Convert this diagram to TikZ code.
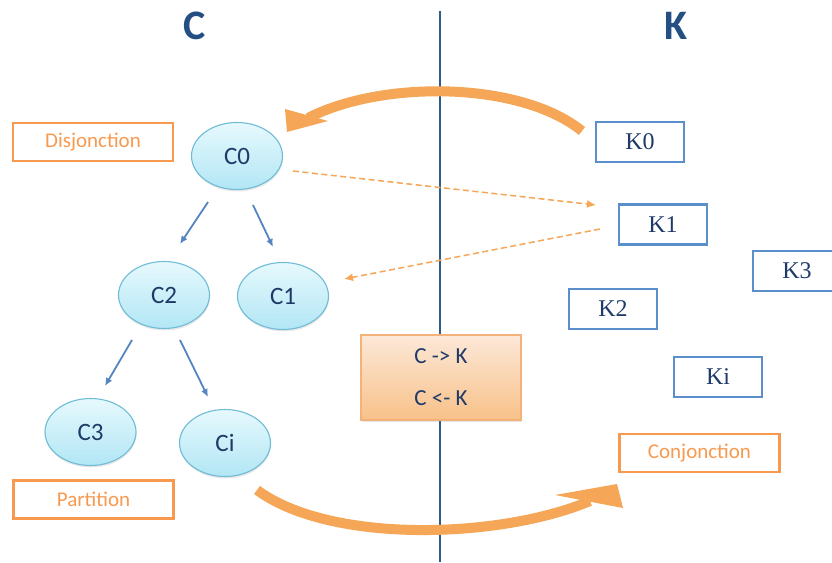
\documentclass[tikz,border=0pt]{standalone}
\usepackage{fontspec}
\setsansfont{Carlito}
\newfontfamily\kserif{Liberation Serif}
\usetikzlibrary{arrows.meta,shadows,shapes.geometric}
\definecolor{navy}{HTML}{1F3A68}
\definecolor{titleblue}{HTML}{234F82}
\definecolor{lineblue}{HTML}{2E5C8A}
\definecolor{arrblue}{HTML}{5585C0}
\definecolor{kblue}{HTML}{5B8FCB}
\definecolor{orng}{HTML}{F5A656}
\definecolor{lblorange}{HTML}{F79A50}
\definecolor{ellborder}{HTML}{6FBCD6}
\definecolor{elltop}{HTML}{E6F9FD}
\definecolor{ellbot}{HTML}{B2E6F5}
\definecolor{boxtop}{HTML}{FCE8D8}
\definecolor{boxbot}{HTML}{F8C189}
\definecolor{boxborder}{HTML}{F3B27A}
\tikzset{
  cnode/.style={ellipse, draw=ellborder, line width=1.1pt, top color=elltop, bottom color=ellbot,
    minimum width=91pt, minimum height=67pt, inner sep=0pt, text=navy,
    font=\sffamily\fontsize{25}{27}\selectfont,
    drop shadow={opacity=0.18, shadow xshift=0.5pt, shadow yshift=-2pt}},
  kbox/.style={rectangle, draw=kblue, line width=2.4pt, fill=white, minimum width=88pt, minimum height=40pt,
    inner sep=0pt, text=navy, font=\kserif\fontsize{24}{26}\selectfont},
  lblbox/.style={rectangle, draw=lblorange, line width=2.2pt, fill=white, minimum width=160pt, minimum height=38pt,
    inner sep=0pt, text=lblorange, font=\sffamily\fontsize{21}{23}\selectfont},
  title/.style={text=titleblue, font=\sffamily\bfseries\fontsize{42}{44}\selectfont, inner sep=0pt},
  barrow/.style={draw=arrblue, line width=1.8pt, -{Latex[length=8pt,width=7pt]}},
  darrow/.style={draw=orng, line width=1.5pt, dash pattern=on 6pt off 3.5pt, -{Latex[length=9pt,width=8pt]}},
  bigarrow/.style={draw=orng, line width=10pt},
  bighead/.style={fill=orng, draw=none},
}
\begin{document}
\begin{tikzpicture}[x=1pt,y=-1pt]
\useasboundingbox (0,0) rectangle (832,562);
\fill[white] (0,0) rectangle (832,562);

% divider
\coordinate (lt) at (440,11);
\coordinate (lb) at (440,562);
\draw[lineblue, line width=2pt] (lt) -- (lb);

% titles
\node[title] (tC) at (195,26) {C};
\node[title] (tK) at (676,26) {K};

% C side nodes
\node[cnode] (C0) at (237,156) {C0};
\node[cnode] (C2) at (164,295) {C2};
\node[cnode] (C1) at (283,296) {C1};
\node[cnode] (C3) at (90.5,432) {C3};
\node[cnode] (Ci) at (225,443) {Ci};

% labels
\node[lblbox] (dis) at (93,142) {Disjonction};
\node[lblbox] (par) at (93.5,499.5) {Partition};
\node[lblbox] (con) at (699.5,453) {Conjonction};

% K boxes
\node[kbox] (K0) at (640,142) {K0};
\node[kbox] (K1) at (663,224.5) {K1};
\node[kbox] (K3) at (797,271) {K3};
\node[kbox] (K2) at (613,309) {K2};
\node[kbox] (Ki) at (718,377) {Ki};

% central box
\node[rectangle, draw=boxborder, line width=1.2pt, top color=boxtop, bottom color=boxbot,
  minimum width=160pt, minimum height=85pt, inner sep=0pt, text=navy,
  font=\sffamily\fontsize{23}{42}\selectfont, align=center,
  drop shadow={opacity=0.2, shadow xshift=0.5pt, shadow yshift=-2pt}] (ck) at (441,377.5)
  {C -> K\\C <- K};

% blue tree arrows
\coordinate (a1s) at (208,202); \coordinate (a1e) at (180,244);
\coordinate (a2s) at (253,205); \coordinate (a2e) at (273,247);
\coordinate (a3s) at (132,340); \coordinate (a3e) at (105,386);
\coordinate (a4s) at (180,340); \coordinate (a4e) at (208,397);
\draw[barrow] (a1s) -- (a1e);
\draw[barrow] (a2s) -- (a2e);
\draw[barrow] (a3s) -- (a3e);
\draw[barrow] (a4s) -- (a4e);

% dashed orange arrows
\coordinate (d1s) at (293,171); \coordinate (d1e) at (596,205);
\coordinate (d2s) at (600,229); \coordinate (d2e) at (344,279);
\draw[darrow] (d1s) -- (d1e);
\draw[darrow] (d2s) -- (d2e);

% big curved arrows
\coordinate (t1) at (582,131); \coordinate (t2) at (308,118);
\draw[bigarrow] (t1) .. controls (520,81) and (382,80) .. (t2);
\fill[bighead] (285,109) -- (287,132) -- (328,121) -- cycle;

\coordinate (b1) at (257,490); \coordinate (b2) at (590,501);
\draw[bigarrow] (b1) .. controls (330,544) and (500,539) .. (b2);
\fill[bighead] (555,495) -- (617,484) -- (623,508) -- cycle;
\end{tikzpicture}
\end{document}
